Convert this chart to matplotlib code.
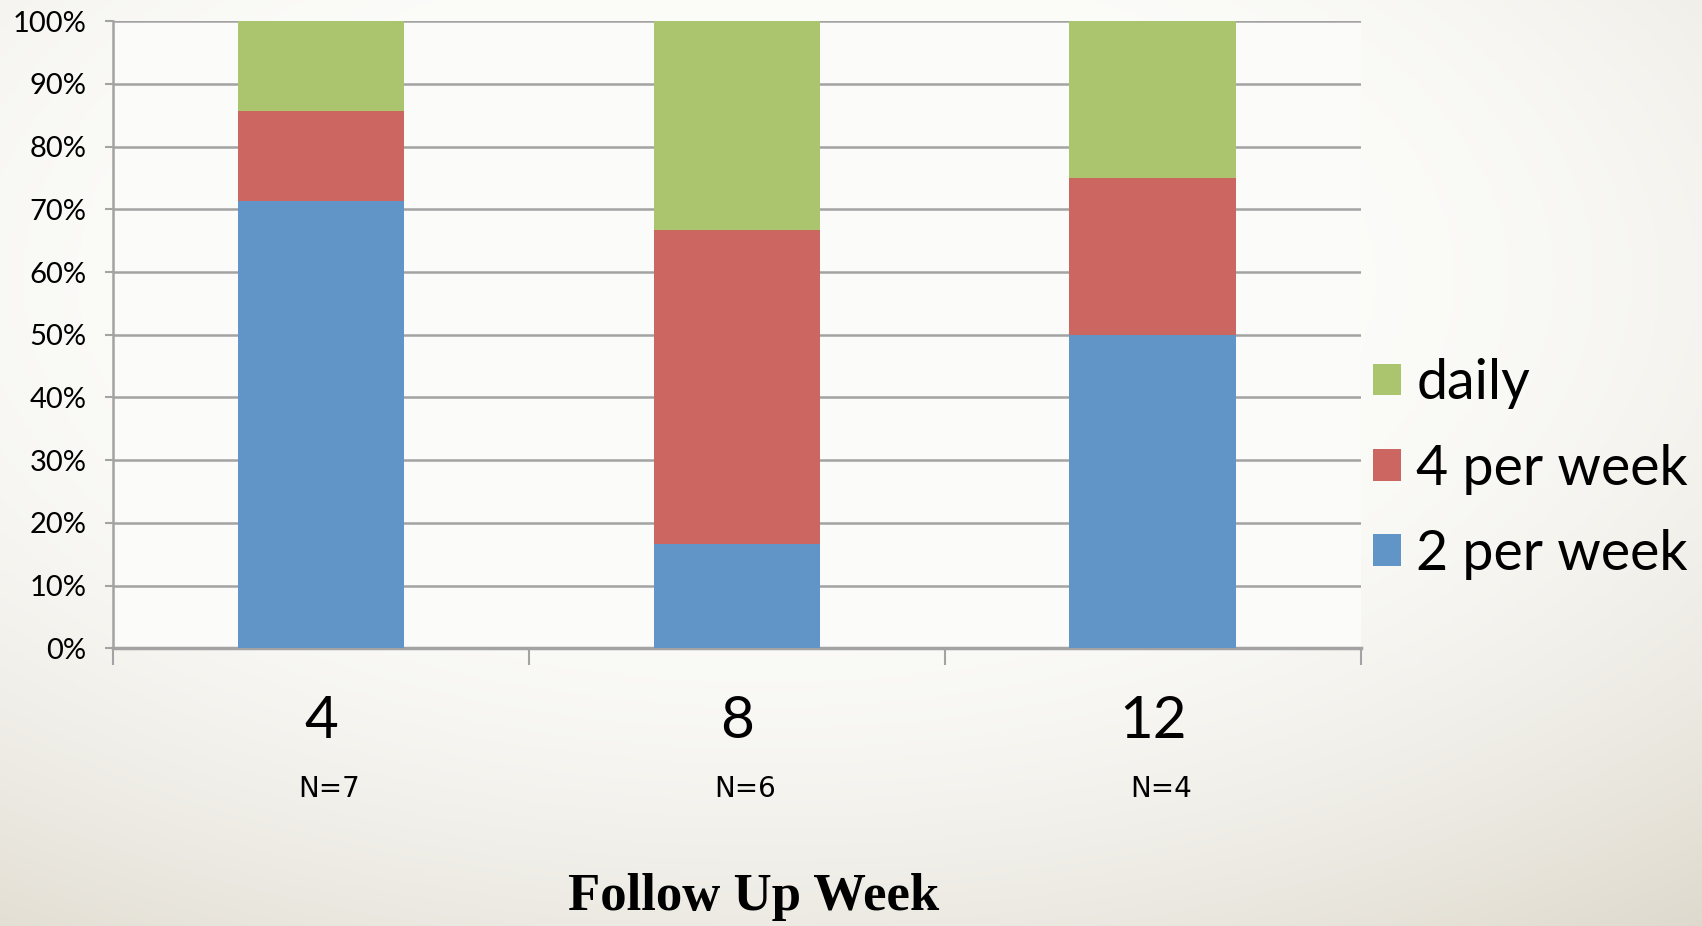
import matplotlib
matplotlib.use("Agg")
import matplotlib.pyplot as plt
import numpy as np

# data (share of patients, %)
weeks = ["4", "8", "12"]
n_labels = ["N=7", "N=6", "N=4"]
two_per_week = [71.4, 16.7, 50.0]
four_per_week = [14.3, 50.0, 25.0]
daily = [14.3, 33.3, 25.0]

c_blue = "#6195C8"
c_red = "#CC6660"
c_green = "#ABC46E"
grid_c = "#A3A3A3"

fig = plt.figure(figsize=(17.02, 9.26), dpi=100)

# background gradient
bg = fig.add_axes([0, 0, 1, 1], zorder=-10)
yy, xx = np.mgrid[0:1:300j, 0:1:500j]
r = np.sqrt(((xx - 0.45) / 0.75) ** 2 + ((yy - 0.30) / 0.75) ** 2)
shade = np.clip(r - 0.45, 0, 1) ** 1.6
top = np.array([0.985, 0.985, 0.975])
dark = np.array([0.80, 0.77, 0.70])
img = top[None, None, :] * (1 - shade[..., None]) + dark[None, None, :] * shade[..., None]
bg.imshow(img, extent=[0, 1, 0, 1], aspect="auto", origin="upper")
bg.axis("off")

ax = fig.add_axes([0.0664, 0.300, 0.733, 0.677])
ax.set_facecolor("#FBFBF9")

x = np.arange(len(weeks))
w = 0.40
ax.bar(x, two_per_week, w, color=c_blue, zorder=3, label="2 per week")
ax.bar(x, four_per_week, w, bottom=two_per_week, color=c_red, zorder=3, label="4 per week")
bot2 = [a + b for a, b in zip(two_per_week, four_per_week)]
ax.bar(x, daily, w, bottom=bot2, color=c_green, zorder=3, label="daily")

ax.set_xlim(-0.5, 2.5)
ax.set_ylim(0, 100)
ax.set_yticks(np.arange(0, 101, 10))
ax.set_yticklabels(["%d%%" % v for v in range(0, 101, 10)], fontfamily="Lato", fontsize=21)
ax.yaxis.grid(True, color=grid_c, linewidth=1.8, zorder=0)
ax.tick_params(axis="y", length=6, width=1.5, color=grid_c, pad=13)

ax.set_xticks(x)
ax.set_xticklabels(weeks, fontfamily="Lato", fontsize=42)
ax.tick_params(axis="x", which="major", length=0, pad=34)
ax.set_xticks([-0.5, 0.5, 1.5, 2.5], minor=True)
ax.tick_params(axis="x", which="minor", length=12, width=1.5, color=grid_c)

for s in ["top", "right"]:
    ax.spines[s].set_visible(False)
ax.spines["left"].set_color(grid_c)
ax.spines["left"].set_linewidth(1.8)
ax.spines["bottom"].set_color(grid_c)
ax.spines["bottom"].set_linewidth(2.5)

for i, lab in enumerate(n_labels):
    ax.annotate(lab, xy=(i + 0.02, 0), xycoords=("data", "axes fraction"),
                xytext=(0, -141), textcoords="offset pixels",
                ha="center", va="center", fontsize=20, fontfamily="DejaVu Sans")

fig.text(754 / 1702, 1 - 897 / 926, "Follow Up Week", ha="center", va="center",
         fontsize=38, fontweight="bold", fontfamily="Liberation Serif")

h, l = ax.get_legend_handles_labels()
leg = fig.legend(h[::-1], l[::-1], loc="center left",
                 bbox_to_anchor=(1373 / 1702, 1 - 469 / 926),
                 bbox_transform=fig.transFigure, borderpad=0, borderaxespad=0,
                 frameon=False, prop={"family": "Lato", "size": 40},
                 handlelength=0.5, handleheight=0.5, handletextpad=0.28,
                 labelspacing=0.62)

fig.savefig("out.png", dpi=100)
